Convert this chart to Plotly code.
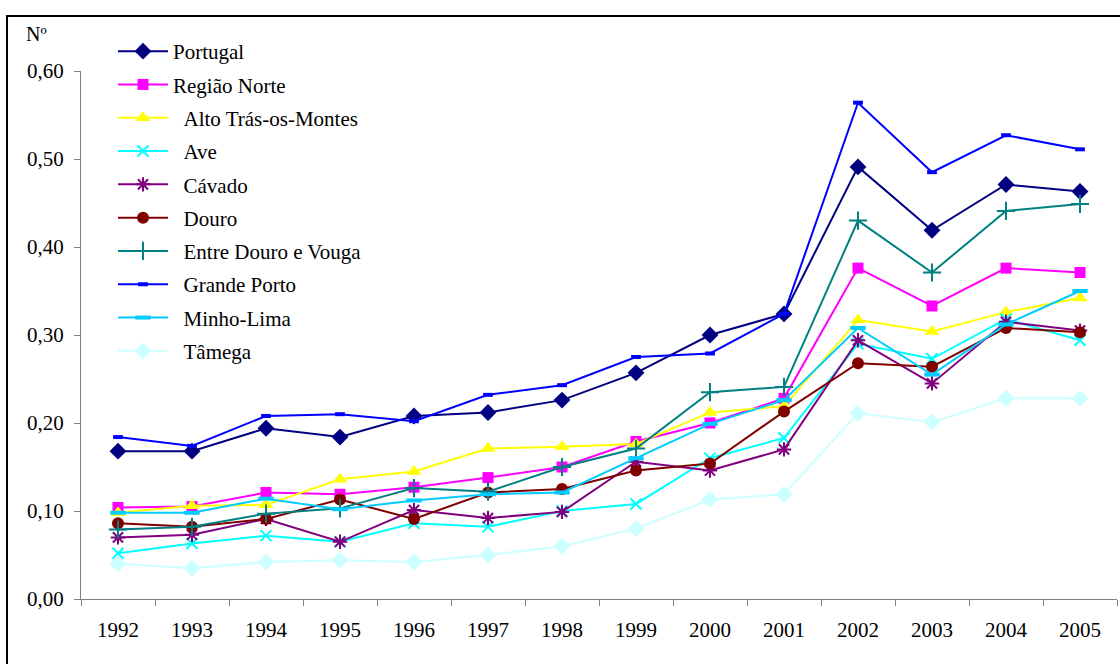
import plotly.graph_objects as go

# Indicator per NUTS III region, 1992-2005
years = ["1992", "1993", "1994", "1995", "1996", "1997", "1998",
         "1999", "2000", "2001", "2002", "2003", "2004", "2005"]

portugal = [0.168, 0.168, 0.194, 0.184, 0.208, 0.212, 0.226,
            0.257, 0.300, 0.324, 0.491, 0.419, 0.471, 0.463]
regiao_norte = [0.104, 0.105, 0.121, 0.119, 0.127, 0.138, 0.150,
                0.179, 0.200, 0.228, 0.376, 0.333, 0.376, 0.371]
alto_tras_os_montes = [0.098, 0.106, 0.107, 0.136, 0.145, 0.171, 0.173,
                       0.176, 0.212, 0.219, 0.317, 0.304, 0.326, 0.342]
ave = [0.052, 0.063, 0.072, 0.065, 0.086, 0.082, 0.100,
       0.108, 0.160, 0.183, 0.290, 0.273, 0.318, 0.294]
cavado = [0.070, 0.073, 0.091, 0.065, 0.101, 0.092, 0.099,
          0.156, 0.146, 0.170, 0.294, 0.245, 0.315, 0.305]
douro = [0.086, 0.082, 0.091, 0.113, 0.091, 0.121, 0.125,
         0.146, 0.154, 0.213, 0.268, 0.264, 0.308, 0.303]
entre_douro_vouga = [0.079, 0.082, 0.097, 0.103, 0.126, 0.122, 0.150,
                     0.171, 0.235, 0.241, 0.430, 0.371, 0.441, 0.449]
grande_porto = [0.184, 0.174, 0.208, 0.210, 0.202, 0.232, 0.243,
                0.275, 0.279, 0.324, 0.564, 0.485, 0.527, 0.511]
minho_lima = [0.098, 0.098, 0.114, 0.102, 0.112, 0.119, 0.121,
              0.160, 0.199, 0.226, 0.308, 0.255, 0.312, 0.350]
tamega = [0.040, 0.035, 0.042, 0.044, 0.042, 0.050, 0.060,
          0.080, 0.113, 0.119, 0.211, 0.201, 0.228, 0.228]

y_ticks = [0.0, 0.1, 0.2, 0.3, 0.4, 0.5, 0.6]

SERIF = "Liberation Serif"
IND = "\u00a0\u00a0"

series = [
    ("Portugal", portugal, "#000080", dict(symbol="diamond", size=13)),
    ("Região Norte", regiao_norte, "#FF00FF", dict(symbol="square", size=11)),
    (IND + "Alto Trás-os-Montes", alto_tras_os_montes, "#FFFF00",
     dict(symbol="triangle-up", size=13)),
    (IND + "Ave", ave, "#00FFFF",
     dict(symbol="x-thin", size=11, line=dict(width=2, color="#00FFFF"))),
    (IND + "Cávado", cavado, "#800080",
     dict(symbol="asterisk", size=12, line=dict(width=2, color="#800080"))),
    (IND + "Douro", douro, "#800000", dict(symbol="circle", size=12)),
    (IND + "Entre Douro e Vouga", entre_douro_vouga, "#008080",
     dict(symbol="cross-thin", size=13, line=dict(width=2, color="#008080"))),
    (IND + "Grande Porto", grande_porto, "#0000FF",
     dict(symbol="line-ew", size=7, line=dict(width=4, color="#0000FF"))),
    (IND + "Minho-Lima", minho_lima, "#00CCFF",
     dict(symbol="line-ew", size=11, line=dict(width=4, color="#00CCFF"))),
    (IND + "Tâmega", tamega, "#CCFFFF", dict(symbol="diamond", size=13)),
]

fig = go.Figure()
for i, (name, vals, color, marker) in enumerate(series):
    fig.add_trace(go.Scatter(
        x=years, y=vals, name=name, mode="lines+markers",
        line=dict(color=color, width=2),
        marker=dict(color=color, **marker),
        legendgroup=f"g{i}",
    ))

fig.update_layout(
    width=1120, height=664,
    margin=dict(l=81, r=3, t=71, b=65),
    paper_bgcolor="white", plot_bgcolor="white",
    separators=",.",
    font=dict(family=SERIF, size=21, color="black"),
    showlegend=True,
    legend=dict(
        x=(113 - 81) / 1036, y=(599 - 31) / 528,
        xanchor="left", yanchor="top",
        bgcolor="rgba(0,0,0,0)", font=dict(family=SERIF, size=21),
        tracegroupgap=3, itemwidth=50, maxheight=560,
    ),
    xaxis=dict(
        type="category", range=[-0.5, 13.5],
        showline=True, linecolor="#808080", linewidth=1,
        ticks="outside", tickson="boundaries", ticklen=6, tickcolor="#808080",
        showgrid=False, zeroline=False,
        tickfont=dict(family=SERIF, size=21), ticklabelstandoff=12,
    ),
    yaxis=dict(
        range=[0, 0.6], tickvals=y_ticks, tickformat=".2f",
        showline=True, linecolor="#808080", linewidth=1,
        ticks="outside", ticklen=6, tickcolor="#808080",
        showgrid=False, zeroline=False,
        tickfont=dict(family=SERIF, size=21), ticklabelstandoff=6,
    ),
    annotations=[dict(
        text="Nº", xref="paper", yref="paper",
        x=(36 - 81) / 1036, y=(599 - 34) / 528,
        xanchor="center", yanchor="middle", showarrow=False,
        font=dict(family=SERIF, size=20),
    )],
    shapes=[dict(
        type="rect", xref="paper", yref="paper",
        x0=(7 - 81) / 1036, x1=(1130 - 81) / 1036,
        y0=(599 - 680) / 528, y1=(599 - 16) / 528,
        line=dict(color="black", width=2), layer="below",
    )],
)

fig.write_html("out.html")
